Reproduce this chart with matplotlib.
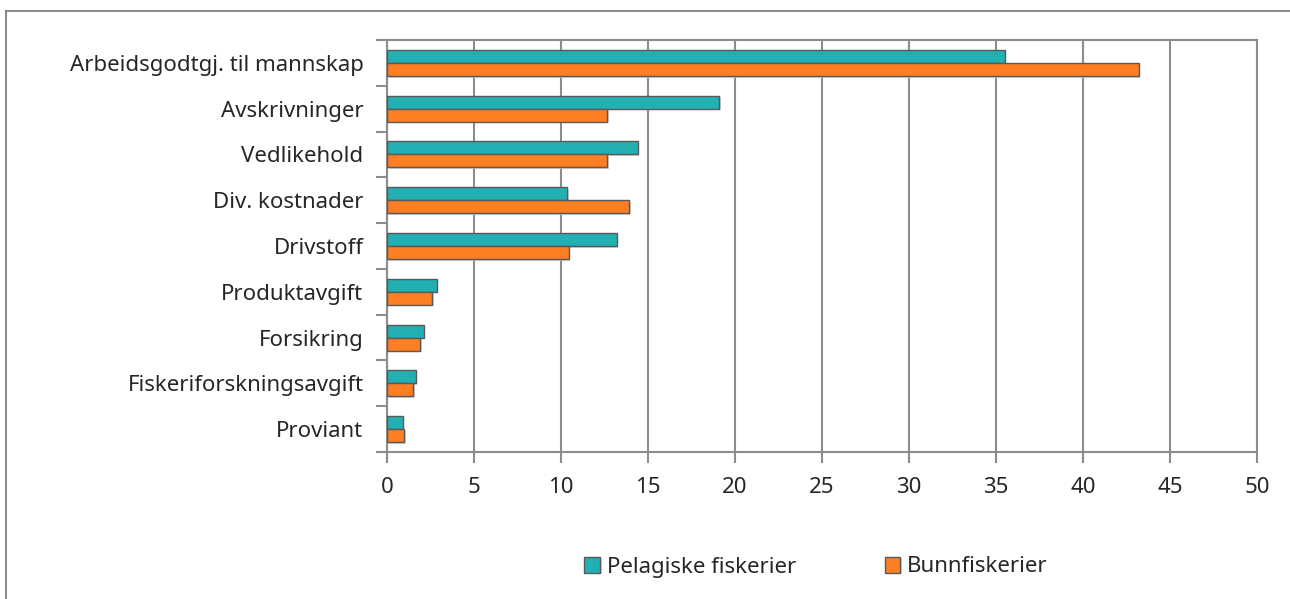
import numpy as np
import matplotlib.pyplot as plt
import matplotlib.patheffects as pe
from matplotlib.patches import Rectangle

plt.rcParams['font.family'] = ['Noto Sans', 'DejaVu Sans']

# data
categories = ["Arbeidsgodtgj. til mannskap", "Avskrivninger", "Vedlikehold",
              "Div. kostnader", "Drivstoff", "Produktavgift", "Forsikring",
              "Fiskeriforskningsavgift", "Proviant"]
pelagiske = [35.5, 19.1, 14.4, 10.35, 13.2, 2.85, 2.1, 1.65, 0.9]
bunn = [43.2, 12.65, 12.65, 13.9, 10.45, 2.6, 1.9, 1.5, 1.0]
x_ticks = np.arange(0, 55, 5)

teal = "#23b0b3"
orange = "#fd7e23"
grid_c = "#8c8c8c"
text_c = "#262626"

fig = plt.figure(figsize=(12.9, 5.99), dpi=100)
ax = fig.add_axes([387 / 1290, 1 - 452 / 599, 870 / 1290, 412 / 599])

# ramme rundt hele figuren
fig.patches.append(Rectangle((6 / 1290, -0.1), 1.2, 1 - 11 / 599 + 0.1,
                             transform=fig.transFigure, fill=False,
                             edgecolor="#8c8c8c", linewidth=1.5))

y = np.arange(len(categories))
h = 0.285
shadow = [pe.SimplePatchShadow(offset=(1.2, -1.2), shadow_rgbFace="#c8c8c8", alpha=0.8), pe.Normal()]
b1 = ax.barh(y - h / 2, pelagiske, height=h, color=teal, edgecolor="#595959",
             linewidth=1.0, label="Pelagiske fiskerier", zorder=3)
b2 = ax.barh(y + h / 2, bunn, height=h, color=orange, edgecolor="#595959",
             linewidth=1.0, label="Bunnfiskerier", zorder=3)
for b in list(b1) + list(b2):
    b.set_path_effects(shadow)

ax.set_ylim(len(categories) - 0.5, -0.5)
ax.set_xlim(0, 50)
ax.set_xticks(x_ticks)
ax.set_xticklabels([str(v) for v in x_ticks], fontsize=16, color=text_c, fontweight='light')

# kategoritekst midt i, tick-streker mellom kategoriene
ax.set_yticks(y)
ax.set_yticklabels(categories, fontsize=16, color=text_c, fontweight='light')
ax.set_yticks(np.arange(-0.5, len(categories) + 0.5, 1), minor=True)
ax.tick_params(axis='y', which='major', length=0, pad=17)
ax.tick_params(axis='y', which='minor', length=8, width=1.5, color=grid_c)
ax.tick_params(axis='x', length=8, width=1.5, color=grid_c, pad=10)

ax.grid(axis='x', color=grid_c, linewidth=1.5, zorder=0)
for s in ax.spines.values():
    s.set_color(grid_c)
    s.set_linewidth(1.5)

ax.legend(loc='center', bbox_to_anchor=(816 / 1290, 1 - 567 / 599),
          bbox_transform=fig.transFigure, ncol=2, frameon=False,
          prop={'size': 16, 'weight': 'light'}, handlelength=0.7, handleheight=0.7,
          handletextpad=0.3, columnspacing=4.0, labelcolor=text_c)

fig.savefig("out.png", dpi=100)
